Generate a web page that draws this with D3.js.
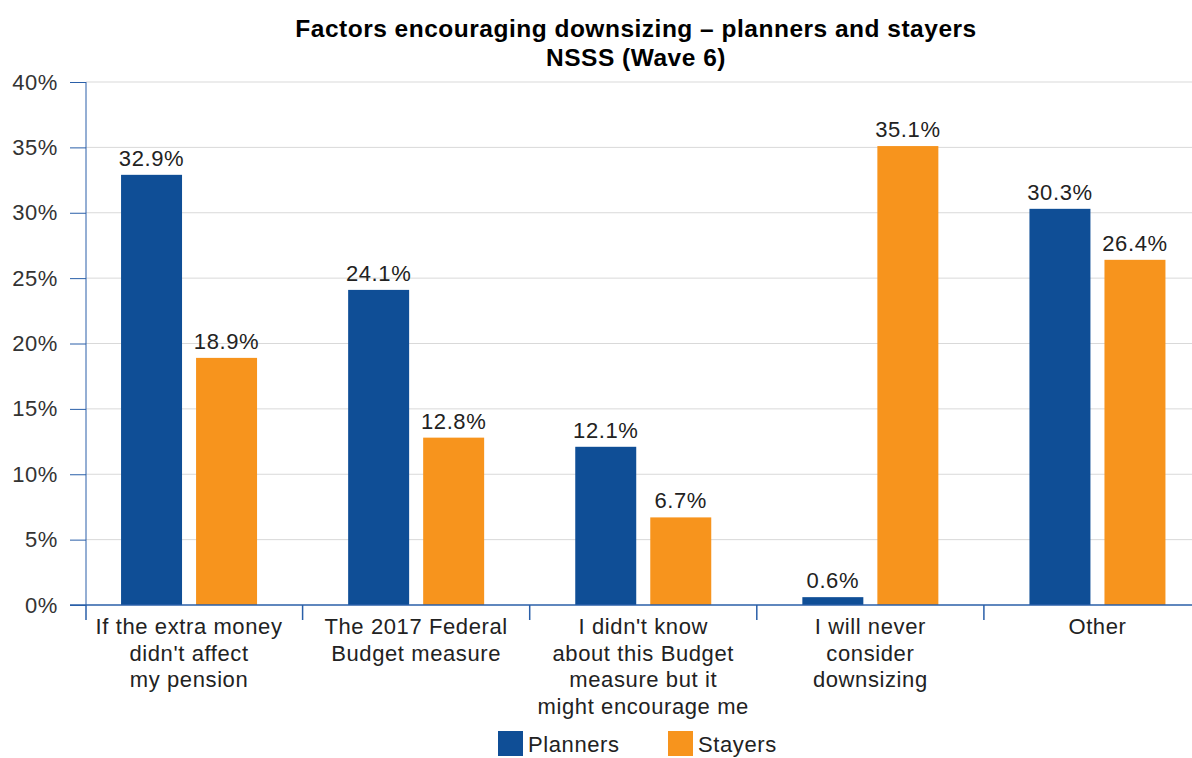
<!DOCTYPE html>
<html>
<head>
<meta charset="utf-8">
<script src="https://cdn.jsdelivr.net/npm/d3@7"></script>
<style>
  html, body { margin: 0; padding: 0; background: #fff; }
  svg text { font-family: "Liberation Sans", Arial, sans-serif; letter-spacing: 0.6px; }
</style>
</head>
<body>
<div id="chart"></div>
<script>
var categories = [
    ["If the extra money", "didn't affect", "my pension"],
    ["The 2017 Federal", "Budget measure"],
    ["I didn't know", "about this Budget", "measure but it", "might encourage me"],
    ["I will never", "consider", "downsizing"],
    ["Other"]
];
var seriesNames = ['Planners', 'Stayers'];
var planners = [32.9, 24.1, 12.1, 0.6, 30.3];
var stayers = [18.9, 12.8, 6.7, 35.1, 26.4];
var yTicks = [0, 5, 10, 15, 20, 25, 30, 35, 40];
var colors = ['#0f4e96', '#f7941d'];

(function () {
    var W = 1192, H = 758;
    var svg = d3.select('#chart').append('svg')
        .attr('width', W).attr('height', H);

    var x = d3.scaleBand()
        .domain(d3.range(categories.length))
        .range([75.5, 1211]);
    var inner = d3.scaleBand()
        .domain(seriesNames)
        .range([x.bandwidth() / 2 - 68, x.bandwidth() / 2 + 68])
        .paddingInner(0.187);
    var y = d3.scaleLinear().domain([0, 40]).range([605, 82]);
    var axisX = 86;
    var fs = 22;

    // title
    var title = svg.append('text')
        .attr('text-anchor', 'middle')
        .attr('font-size', 24.5).attr('font-weight', 'bold').attr('fill', '#000')
        .style('letter-spacing', '0.5px');
    title.append('tspan').attr('x', 636).attr('y', 37).text('Factors encouraging downsizing \u2013 planners and stayers');
    title.append('tspan').attr('x', 636).attr('y', 66).text('NSSS (Wave 6)');

    // gridlines
    svg.append('g').selectAll('line')
        .data(yTicks.filter(function (d) { return d > 0; }))
        .enter().append('line')
        .attr('x1', axisX).attr('x2', W)
        .attr('y1', function (d) { return y(d); })
        .attr('y2', function (d) { return y(d); })
        .attr('stroke', '#d9d9d9').attr('stroke-width', 1);

    // y axis
    var yAxis = svg.append('g')
        .attr('transform', 'translate(' + axisX + ',0)')
        .call(d3.axisLeft(y).tickValues(yTicks).tickSize(16).tickPadding(12)
            .tickFormat(function (d) { return d + '%'; }));
    yAxis.select('.domain').attr('stroke', '#2a5fa8').attr('d', 'M0,' + y(40) + 'V' + y(0));
    yAxis.selectAll('.tick line').attr('stroke', '#2a5fa8');
    yAxis.selectAll('text')
        .attr('font-size', fs).attr('fill', '#333')
        .style('font-family', '"Liberation Sans", Arial, sans-serif');

    // bars
    var rows = categories.map(function (c, i) {
        return [{ s: 0, v: planners[i] }, { s: 1, v: stayers[i] }];
    });
    var groups = svg.append('g').selectAll('g')
        .data(rows).enter().append('g')
        .attr('transform', function (d, i) { return 'translate(' + x(i) + ',0)'; });
    groups.selectAll('rect')
        .data(function (d) { return d; })
        .enter().append('rect')
        .attr('x', function (d) { return inner(seriesNames[d.s]); })
        .attr('width', inner.bandwidth())
        .attr('y', function (d) { return y(d.v); })
        .attr('height', function (d) { return y(0) - y(d.v); })
        .attr('fill', function (d) { return colors[d.s]; });
    groups.selectAll('text')
        .data(function (d) { return d; })
        .enter().append('text')
        .attr('x', function (d) { return inner(seriesNames[d.s]) + inner.bandwidth() / 2; })
        .attr('y', function (d) { return y(d.v) - 9; })
        .attr('text-anchor', 'middle')
        .attr('font-size', fs).attr('fill', '#222')
        .text(function (d) { return d.v.toFixed(1) + '%'; });

    // x axis
    svg.append('line')
        .attr('x1', axisX - 16).attr('x2', W)
        .attr('y1', y(0)).attr('y2', y(0))
        .attr('stroke', '#2a5fa8').attr('stroke-width', 1.5);
    svg.append('g').selectAll('line')
        .data(d3.range(1, categories.length))
        .enter().append('line')
        .attr('x1', function (i) { return x(i); })
        .attr('x2', function (i) { return x(i); })
        .attr('y1', y(0)).attr('y2', y(0) + 15)
        .attr('stroke', '#2a5fa8').attr('stroke-width', 1.5);
    svg.append('line')
        .attr('x1', axisX).attr('x2', axisX)
        .attr('y1', y(0)).attr('y2', y(0) + 15)
        .attr('stroke', '#2a5fa8').attr('stroke-width', 1.5);

    var labels = svg.append('g').selectAll('text')
        .data(categories).enter().append('text')
        .attr('text-anchor', 'middle')
        .attr('font-size', fs).attr('fill', '#222');
    labels.selectAll('tspan')
        .data(function (d, i) { return d.map(function (t) { return { t: t, i: i }; }); })
        .enter().append('tspan')
        .attr('x', function (d) { return x(d.i) + x.bandwidth() / 2; })
        .attr('y', function (d, j) { return 634 + j * 26.5; })
        .text(function (d) { return d.t; });

    // legend
    var legendX = [498, 668];
    var legend = svg.append('g').selectAll('g')
        .data(seriesNames).enter().append('g')
        .attr('transform', function (d, i) { return 'translate(' + legendX[i] + ',731)'; });
    legend.append('rect')
        .attr('width', 25).attr('height', 25)
        .attr('fill', function (d, i) { return colors[i]; });
    legend.append('text')
        .attr('x', 30).attr('y', 21)
        .attr('font-size', fs).attr('fill', '#222')
        .text(function (d) { return d; });
})();
</script>
</body>
</html>
